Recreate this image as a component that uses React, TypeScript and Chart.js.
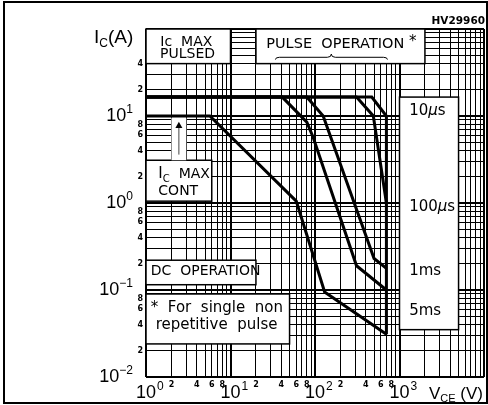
import React, { useEffect, useRef } from "react";
import { Chart, registerables } from "chart.js";

Chart.register(...registerables);

// ---- data ----
const dcV = [1, 5.7, 60, 130, 700];
const dcI = [10, 10, 1.05, 0.095, 0.031];
const ms5V = [1, 41, 80, 95, 310, 700];
const ms5I = [16.5, 16.5, 8.5, 5.7, 0.19, 0.1];
const ms1V = [1, 80, 125, 500, 700];
const ms1I = [16.5, 16.5, 10, 0.23, 0.177];
const us100V = [1, 310, 490, 700];
const us100I = [16.5, 16.5, 10, 1.0];
const us10V = [1, 470, 700, 700];
const us10I = [16.5, 16.5, 10, 0.031];

// grid / tick values
const xGrid = [1, 2, 3, 4, 5, 6, 7, 8, 9, 10, 20, 30, 40, 50, 60, 70, 80, 90, 100, 200, 300, 400, 500, 600, 700, 800, 900, 1000, 2000, 3000, 4000, 5000, 6000, 7000, 8000, 9000, 10000];
const yGrid = [0.01, 0.02, 0.03, 0.04, 0.05, 0.06, 0.07, 0.08, 0.09, 0.1, 0.2, 0.3, 0.4, 0.5, 0.6, 0.7, 0.8, 0.9, 1, 2, 3, 4, 5, 6, 7, 8, 9, 10, 20, 30, 40, 50, 60, 70, 80, 90, 100];
const xMajorTicks = [1, 10, 100, 1000];
const xMajorExp = ["0", "1", "2", "3"];
const xMinorTicks = [2, 4, 6, 8, 20, 40, 60, 80, 200, 400, 600, 800];
const xMinorLabels = ["2", "4", "6", "8", "2", "4", "6", "8", "2", "4", "6", "8"];
const yMajorTicks = [0.01, 0.1, 1, 10];
const yMajorExp = ["\u22122", "\u22121", "0", "1"];
const yMinorTicks = [0.02, 0.04, 0.06, 0.08, 0.2, 0.4, 0.6, 0.8, 2, 4, 6, 8, 20, 40];
const yMinorLabels = ["2", "4", "6", "8", "2", "4", "6", "8", "2", "4", "6", "8", "2", "4"];

const FONT = "'DejaVu Sans', 'Liberation Sans', sans-serif";
const AFONT = "'Liberation Sans', Arial, sans-serif";
const isDecade = (v: number) => Math.abs(Math.log10(v) - Math.round(Math.log10(v))) < 1e-9;

const overlay = {
  id: "overlay",
  beforeDatasetsDraw(chart: any) {
    const ctx = chart.ctx;
    const X = (v: number) => chart.scales.x.getPixelForValue(v);
    const Y = (v: number) => chart.scales.y.getPixelForValue(v);
    const box = (v1: number, v2: number, i1: number, i2: number, border = true) => {
      const x1 = X(v1), x2 = X(v2), y1 = Y(i2), y2 = Y(i1);
      ctx.save();
      ctx.fillStyle = "#fff";
      ctx.fillRect(x1, y1, x2 - x1, y2 - y1);
      if (border) {
        ctx.strokeStyle = "#000";
        ctx.lineWidth = 1.5;
        ctx.strokeRect(x1, y1, x2 - x1, y2 - y1);
      }
      ctx.restore();
    };
    box(1, 10, 40, 100);
    box(20, 2000, 40, 100);
    box(1, 6, 1.05, 3.1);
    box(2, 3, 3.1, 9.6, false);
    box(1, 20, 0.115, 0.22);
    box(1, 50, 0.024, 0.09);
    box(1000, 5000, 0.035, 16.5);
  },
  afterDatasetsDraw(chart: any) {
    const ctx = chart.ctx;
    const X = (v: number) => chart.scales.x.getPixelForValue(v);
    const Y = (v: number) => chart.scales.y.getPixelForValue(v);
    ctx.save();
    ctx.fillStyle = "#000";
    ctx.strokeStyle = "#000";
    ctx.textBaseline = "alphabetic";
    ctx.textAlign = "left";
    const runs = (parts: [string, number, number, string?, string?][], x: number, y: number, align: string) => {
      let w = 0;
      const fonts = parts.map(([t, s, dy, st, fam]) => `${st || ""} ${s}px ${fam || FONT}`);
      parts.forEach((p, k) => { ctx.font = fonts[k]; w += ctx.measureText(p[0]).width; });
      let cx = align === "right" ? x - w : align === "center" ? x - w / 2 : x;
      parts.forEach((p, k) => {
        ctx.font = fonts[k];
        ctx.fillText(p[0], cx, y + p[2]);
        cx += ctx.measureText(p[0]).width;
      });
    };
    // y tick labels
    yMajorTicks.forEach((v, k) => {
      const y = Y(v);
      runs([["10", 18, 0, "", AFONT], [yMajorExp[k], 12, -8, "", AFONT]], 133, y + 5, "right");
    });
    ctx.textAlign = "right";
    ctx.textBaseline = "middle";
    ctx.font = `bold 8px ${FONT}`;
    yMinorTicks.forEach((v, k) => ctx.fillText(yMinorLabels[k], 143, Y(v)));
    ctx.textAlign = "center";
    xMinorTicks.forEach((v, k) => ctx.fillText(xMinorLabels[k], X(v), 385));
    ctx.textAlign = "left";
    ctx.textBaseline = "alphabetic";
    xMajorTicks.forEach((v, k) => {
      const x = X(v);
      ctx.font = `18px ${AFONT}`;
      const w = ctx.measureText("10").width;
      ctx.fillText("10", x - w / 2, 398);
      ctx.font = `12px ${AFONT}`;
      ctx.fillText(xMajorExp[k], x + w / 2 + 1, 390);
    });
    // axis titles
    runs([["I", 19, 0, "", AFONT], ["C", 12, 4, "", AFONT], ["(A)", 19, 0, "", AFONT]], 94, 43, "left");
    runs([["V", 17, 0, "", AFONT], ["CE", 11, 3, "", AFONT], [" (V)", 17, 0, "", AFONT]], 429, 399, "left");
    // code
    ctx.font = `bold 10.5px ${FONT}`;
    ctx.textAlign = "right";
    ctx.fillText("HV29960", 485, 24);
    ctx.textAlign = "left";
    // box texts
    runs([["Ic  MAX", 14, 0]], X(3), Y(64), "center");
    runs([["PULSED", 14, 0]], X(3.1), Y(46), "center");
    runs([["PULSE  OPERATION", 14.5, 0], [" *", 15, -2]], X(26.5), Y(61), "left");
    runs([["I", 15, 0], ["C", 10, 4], ["  MAX", 14, 0]], X(1.4), Y(1.95), "left");
    runs([["CONT", 14, 0]], X(1.4), Y(1.23), "left");
    runs([["DC  OPERATION", 14, 0]], X(1.14), Y(0.147), "left");
    runs([["*  For  single  non", 15, 0]], X(1.14), Y(0.056), "left");
    runs([["repetitive  pulse", 15, 0]], X(1.3), Y(0.036), "left");
    // curve labels
    const lx = X(1300);
    runs([["10", 15, 0], ["\u03bc", 15, 0, "italic"], ["s", 15, 0]], lx, Y(10.2), "left");
    runs([["100", 15, 0], ["\u03bc", 15, 0, "italic"], ["s", 15, 0]], lx, Y(0.8), "left");
    runs([["1ms", 15, 0]], lx, Y(0.15), "left");
    runs([["5ms", 15, 0]], lx, Y(0.051), "left");
    // brace under PULSE OPERATION
    const bx1 = X(34), bx2 = X(720), bc = X(156);
    const yEnd = Y(44.5), yMid = Y(47.3), yTip = Y(51.5);
    ctx.lineWidth = 1;
    ctx.beginPath();
    ctx.moveTo(bx1, yEnd);
    ctx.quadraticCurveTo(bx1, yMid, bx1 + 4, yMid);
    ctx.lineTo(bc - 4, yMid);
    ctx.quadraticCurveTo(bc, yMid, bc, yTip);
    ctx.quadraticCurveTo(bc, yMid, bc + 4, yMid);
    ctx.lineTo(bx2 - 4, yMid);
    ctx.quadraticCurveTo(bx2, yMid, bx2, yEnd);
    ctx.stroke();
    // arrow to Ic max cont
    const ax = X(2.45);
    ctx.strokeStyle = "#444";
    ctx.lineWidth = 1;
    ctx.beginPath();
    ctx.moveTo(ax, Y(3.6));
    ctx.lineTo(ax, Y(7.8));
    ctx.stroke();
    ctx.fillStyle = "#000";
    ctx.beginPath();
    ctx.moveTo(ax, Y(8.6));
    ctx.lineTo(ax - 3.5, Y(7.3));
    ctx.lineTo(ax + 3.5, Y(7.3));
    ctx.closePath();
    ctx.fill();
    // outer frame
    ctx.strokeStyle = "#000";
    ctx.lineWidth = 2;
    ctx.strokeRect(4, 2, 483, 401);
    ctx.restore();
  },
};

export default function App() {
  const ref = useRef<HTMLCanvasElement>(null);
  useEffect(() => {
    const mk = (vs: number[], is: number[]) => vs.map((v, k) => ({ x: v, y: is[k] }));
    const ds = (data: any) => ({
      data,
      borderColor: "#000",
      borderWidth: 3,
      pointRadius: 0,
      fill: false,
      tension: 0,
    });
    const gridOpts = {
      color: "#000",
      drawTicks: false,
      lineWidth: (c: any) => (c.tick && isDecade(c.tick.value) ? 2 : 1),
    };
    const chart = new Chart(ref.current as HTMLCanvasElement, {
      type: "line",
      data: {
        datasets: [
          ds(mk(dcV, dcI)),
          ds(mk(ms5V, ms5I)),
          ds(mk(ms1V, ms1I)),
          ds(mk(us100V, us100I)),
          ds(mk(us10V, us10I)),
        ],
      },
      options: {
        responsive: false,
        animation: false,
        devicePixelRatio: 1,
        layout: { padding: { left: 146, right: 4, top: 29, bottom: 28 } },
        plugins: { legend: { display: false }, tooltip: { enabled: false } },
        scales: {
          x: {
            type: "logarithmic",
            min: 1,
            max: 10000,
            afterBuildTicks: (s: any) => { s.ticks = xGrid.map((v) => ({ value: v })); },
            afterFit: (s: any) => { s.height = 0; },
            ticks: { display: false, autoSkip: false },
            grid: gridOpts,
            border: { display: false },
          },
          y: {
            type: "logarithmic",
            min: 0.01,
            max: 100,
            afterBuildTicks: (s: any) => { s.ticks = yGrid.map((v) => ({ value: v })); },
            afterFit: (s: any) => { s.width = 0; },
            ticks: { display: false, autoSkip: false },
            grid: gridOpts,
            border: { display: false },
          },
        },
      } as any,
      plugins: [overlay],
    });
    return () => chart.destroy();
  }, []);
  return (
    <div style={{ position: "fixed", left: 0, top: 0, width: 488, height: 405, background: "#fff" }}>
      <canvas ref={ref} width={488} height={405} style={{ display: "block" }} />
    </div>
  );
}
